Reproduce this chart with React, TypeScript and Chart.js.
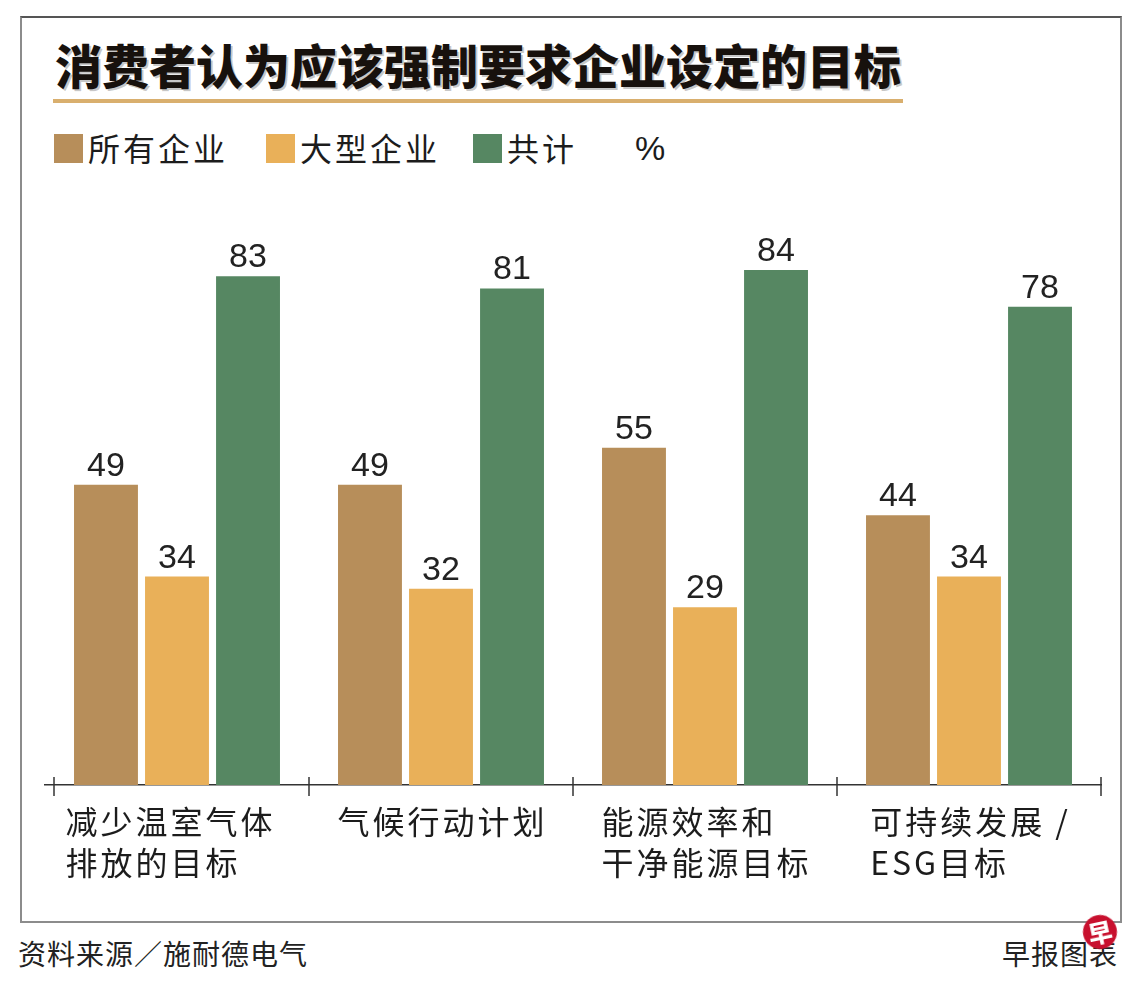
import React, { useEffect, useRef } from "react";
import { Chart, registerables } from "chart.js";

Chart.register(...registerables);

// ---- data ----
const categories: string[][] = [
  ["减少温室气体", "排放的目标"],
  ["气候行动计划"],
  ["能源效率和", "干净能源目标"],
  ["可持续发展 /", "ESG目标"],
];
const seriesNames = ["所有企业", "大型企业", "共计"];
const allCompanies = [49, 49, 55, 44];
const largeCompanies = [34, 32, 29, 34];
const totals = [83, 81, 84, 78];
const yMax = 100;

const BROWN = "#B78E5A";
const ORANGE = "#E9B059";
const GREEN = "#568762";
const CJK = '"Noto Sans CJK SC", "Noto Sans", sans-serif';

const valueLabelPlugin = {
  id: "valueLabels",
  afterDatasetsDraw(chart: any) {
    const ctx = chart.ctx;
    ctx.save();
    ctx.font = '34px "Liberation Sans", Arial, sans-serif';
    ctx.fillStyle = "#222";
    ctx.textAlign = "center";
    ctx.textBaseline = "alphabetic";
    chart.data.datasets.forEach((ds: any, di: number) => {
      const meta = chart.getDatasetMeta(di);
      meta.data.forEach((el: any, i: number) => {
        ctx.fillText(String(ds.data[i]), el.x, el.y - 9);
      });
    });
    ctx.restore();
  },
};

const axisPlugin = {
  id: "axisDecor",
  afterDraw(chart: any) {
    const ctx = chart.ctx;
    const xs = chart.scales.x;
    const area = chart.chartArea;
    const n = categories.length;
    ctx.save();
    // tick marks at category boundaries
    ctx.strokeStyle = "#333";
    ctx.lineWidth = 1.5;
    for (let i = 0; i <= n; i++) {
      let x: number;
      if (i === 0) x = area.left + 9;
      else if (i === n) x = area.right;
      else x = (xs.getPixelForValue(i - 1) + xs.getPixelForValue(i)) / 2;
      ctx.beginPath();
      ctx.moveTo(x, area.bottom - 8);
      ctx.lineTo(x, area.bottom + 11);
      ctx.stroke();
    }
    // category labels (block centred, lines left aligned)
    ctx.font = `32px ${CJK}`;
    (ctx as any).letterSpacing = "3px";
    ctx.fillStyle = "#1c1c1c";
    ctx.textAlign = "left";
    ctx.textBaseline = "middle";
    categories.forEach((lines, i) => {
      const cx = xs.getPixelForValue(i);
      const w = Math.max(...lines.map((l) => ctx.measureText(l).width)) - 3;
      const x0 = cx - w / 2 - (i === 0 ? 8 : 0);
      lines.forEach((l, j) => {
        ctx.fillText(l, x0, area.bottom + 37 + j * 41);
      });
    });
    ctx.restore();
  },
};

function BarChart() {
  const ref = useRef<HTMLCanvasElement | null>(null);
  useEffect(() => {
    if (!ref.current) return;
    const chart = new Chart(ref.current, {
      type: "bar",
      data: {
        labels: categories.map((c) => c.join("")),
        datasets: [
          { label: seriesNames[0], data: allCompanies, backgroundColor: BROWN },
          { label: seriesNames[1], data: largeCompanies, backgroundColor: ORANGE },
          { label: seriesNames[2], data: totals, backgroundColor: GREEN },
        ],
      },
      options: {
        responsive: false,
        animation: false,
        layout: { padding: { left: 25, right: 19, top: 12, bottom: 0 } },
        datasets: { bar: { categoryPercentage: 0.807, barPercentage: 0.9 } } as any,
        plugins: {
          legend: { display: false },
          title: { display: false },
          tooltip: { enabled: false },
        },
        scales: {
          x: {
            grid: { display: false },
            border: { display: true, color: "#333", width: 1.5 },
            ticks: { display: false },
            afterFit: (s: any) => {
              s.height = 135;
            },
          },
          y: { display: false, min: 0, max: yMax },
        },
      },
      plugins: [valueLabelPlugin, axisPlugin],
    });
    return () => chart.destroy();
  }, []);
  return (
    <canvas
      ref={ref}
      width={1100}
      height={760}
      style={{ position: "absolute", left: 20, top: 160, width: 1100, height: 760 }}
    />
  );
}

const legendItems = [
  { color: BROWN, sq: 54, tx: 88 },
  { color: ORANGE, sq: 266, tx: 300 },
  { color: GREEN, sq: 473, tx: 507 },
];

export default function App() {
  return (
    <div
      style={{
        position: "absolute",
        left: 0,
        top: 0,
        width: 1140,
        height: 983,
        background: "#fff",
        fontFamily: CJK,
        color: "#1c1c1c",
      }}
    >
      {/* frame */}
      <div
        style={{
          position: "absolute",
          left: 20,
          top: 16,
          width: 1098,
          height: 903,
          border: "2px solid #8c8c8c",
          borderTopColor: "#555",
          boxSizing: "content-box",
        }}
      />
      {/* title */}
      <div
        style={{
          position: "absolute",
          left: 55,
          top: 40,
          fontSize: 47,
          lineHeight: "47px",
          fontWeight: 900,
          letterSpacing: 0,
          color: "#17110d",
          whiteSpace: "nowrap",
          textShadow: "2px 2px 0 rgba(0,0,0,0.22)",
        }}
      >
        消费者认为应该强制要求企业设定的目标
      </div>
      <div
        style={{
          position: "absolute",
          left: 53,
          top: 99,
          width: 850,
          height: 4,
          background: "#D9AF6E",
        }}
      />
      {/* legend */}
      {legendItems.map((it, i) => (
        <React.Fragment key={i}>
          <div
            style={{
              position: "absolute",
              left: it.sq,
              top: 134,
              width: 29,
              height: 29,
              background: it.color,
            }}
          />
          <div
            style={{
              position: "absolute",
              left: it.tx,
              top: 130,
              fontSize: 32,
              lineHeight: "34px",
              letterSpacing: 3,
              whiteSpace: "nowrap",
            }}
          >
            {seriesNames[i]}
          </div>
        </React.Fragment>
      ))}
      <div
        style={{
          position: "absolute",
          left: 635,
          top: 131,
          fontSize: 34,
          lineHeight: "34px",
          fontFamily: '"Liberation Sans", Arial, sans-serif',
        }}
      >
        %
      </div>
      <BarChart />
      {/* footer */}
      <div
        style={{
          position: "absolute",
          left: 18,
          top: 936,
          fontSize: 28,
          lineHeight: "34px",
          letterSpacing: 1,
          whiteSpace: "nowrap",
          color: "#222",
        }}
      >
        资料来源／施耐德电气
      </div>
      <div
        style={{
          position: "absolute",
          right: 22,
          top: 936,
          fontSize: 28,
          lineHeight: "34px",
          letterSpacing: 1,
          whiteSpace: "nowrap",
          color: "#222",
        }}
      >
        早报图表
      </div>
      <div
        style={{
          position: "absolute",
          left: 1083,
          top: 915,
          width: 34,
          height: 34,
          borderRadius: "50%",
          background: "#C8102E",
          color: "#fff",
          fontSize: 24,
          fontWeight: 900,
          lineHeight: "34px",
          textAlign: "center",
          transform: "rotate(-12deg)",
        }}
      >
        早
      </div>
    </div>
  );
}
